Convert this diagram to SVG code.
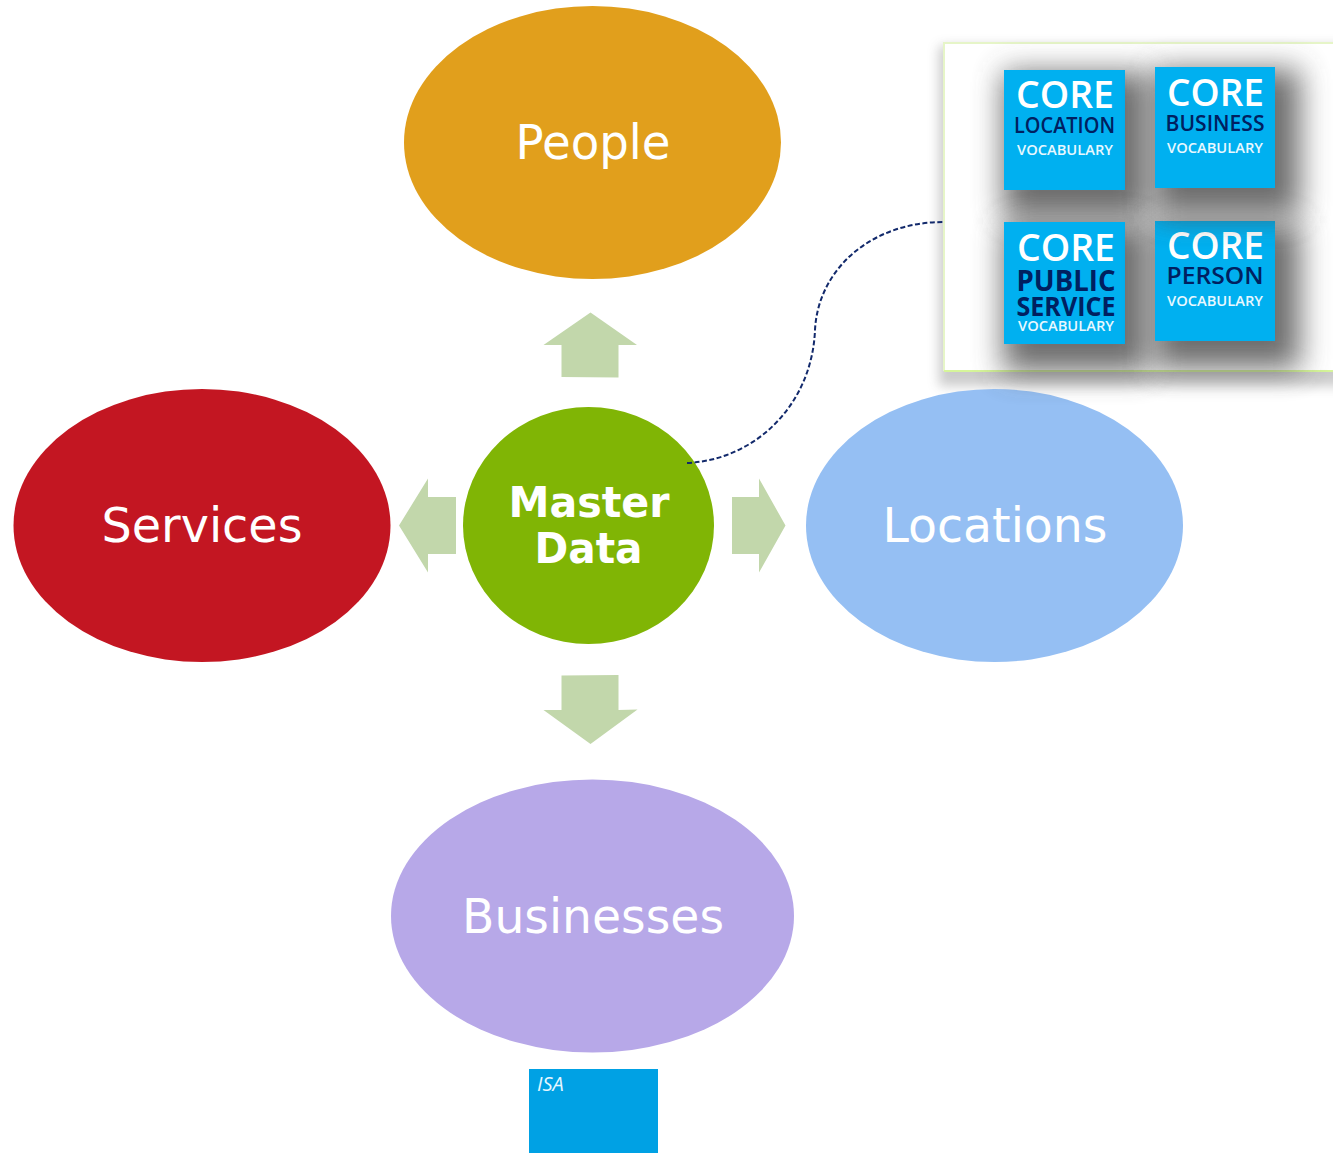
<svg xmlns="http://www.w3.org/2000/svg" width="1333" height="1153" viewBox="0 0 1333 1153">
<defs>
<filter id="tileShadow" x="-60%" y="-60%" width="220%" height="220%"><feGaussianBlur stdDeviation="15"/></filter>
<filter id="panelShadow" x="-5%" y="-10%" width="110%" height="125%"><feGaussianBlur stdDeviation="6"/></filter>
</defs>
<style>
.big{font-family:"DejaVu Sans",Verdana,sans-serif;font-size:47.500px;text-anchor:middle;fill:#fff}
.md{font-family:"DejaVu Sans",Verdana,sans-serif;font-size:42.500px;font-weight:700;text-anchor:middle;fill:#fff}
.arrow{fill:#c2d7ab}
.tile{fill:#00b0f0}
.shadow{fill:#4a4a4a;opacity:.8;filter:url(#tileShadow)}
.core{font-family:"Open Sans","Noto Sans",sans-serif;font-size:38.500px;font-weight:600;text-anchor:middle;fill:#fff}
.sub{font-family:"Open Sans","Noto Sans",sans-serif;font-size:22px;font-weight:600;text-anchor:middle;fill:#002060}
.voc{font-family:"Open Sans","Noto Sans",sans-serif;font-size:14.500px;font-weight:600;text-anchor:middle;fill:#e8f8ff}
</style>
<g id="panel">
<rect x="939" y="46" width="412" height="340" fill="#777" opacity=".38" filter="url(#panelShadow)"/>
<rect x="944" y="43" width="400" height="328" fill="#fff"/>
<path d="M1340 43H944V371" fill="none" stroke="#e6f5c8" stroke-width="2"/>
<path d="M944 371H1340" fill="none" stroke="#d6f59a" stroke-width="2"/>
</g>
<g id="node-people"><ellipse cx="592.500" cy="142.500" rx="188.500" ry="136.500" fill="#e19f1c"/><text class="big" x="593" y="158.500" textLength="155" lengthAdjust="spacingAndGlyphs">People</text></g>
<g id="node-services"><ellipse cx="202" cy="525.500" rx="188.500" ry="136.500" fill="#c31622"/><text class="big" x="202" y="541.500" textLength="201" lengthAdjust="spacingAndGlyphs">Services</text></g>
<g id="node-locations"><ellipse cx="994.500" cy="525.500" rx="188.500" ry="136.500" fill="#95bff3"/><text class="big" x="995" y="541.500" textLength="225" lengthAdjust="spacingAndGlyphs">Locations</text></g>
<g id="node-businesses"><ellipse cx="592.500" cy="916" rx="201.500" ry="136.500" fill="#b7a8e8"/><text class="big" x="593" y="932.500" textLength="262" lengthAdjust="spacingAndGlyphs">Businesses</text></g>
<g id="node-master"><ellipse cx="588.500" cy="525.500" rx="125.500" ry="118.500" fill="#80b505"/>
<text class="md" x="589" y="517" textLength="161" lengthAdjust="spacingAndGlyphs">Master</text><text class="md" x="588.500" y="563" textLength="108" lengthAdjust="spacingAndGlyphs">Data</text></g>
<g id="connectors">
<polygon class="arrow" points="590.500,312.500 637,345 618.500,345 618.500,377.500 561.500,377 561.500,345 543.500,345"/>
<polygon class="arrow" points="399,525.500 428,478.500 428,497 456,497 456,554 428,554 428,572.500"/>
<polygon class="arrow" points="785.500,525.500 759,478.500 759,497 732,497 732,554 759,554 759,572.500"/>
<polygon class="arrow" points="590.500,744 637.500,709.500 618.500,710 618.500,675 561.500,675.500 561.500,710 543.500,710"/>
<path d="M687 463C755 460 812 405 815 330C818 270 870 222 944 222" fill="none" stroke="#12296b" stroke-width="2" stroke-dasharray="5 2.500"/>
</g>
<g id="tile-location">
<rect class="shadow" x="1003" y="72" width="146" height="146"/><rect class="tile" x="1004" y="70" width="121" height="120"/>
<text class="core" x="1065" y="107.500" textLength="98" lengthAdjust="spacingAndGlyphs">CORE</text><text class="sub" x="1064.500" y="133" textLength="101" lengthAdjust="spacingAndGlyphs">LOCATION</text><text class="voc" x="1065" y="155" textLength="96" lengthAdjust="spacingAndGlyphs">VOCABULARY</text></g>
<g id="tile-public-service">
<rect class="shadow" x="1003" y="224" width="146" height="148"/><rect class="tile" x="1004" y="222" width="121" height="122"/>
<text class="core" x="1066" y="260.500" textLength="98" lengthAdjust="spacingAndGlyphs">CORE</text><text class="sub" x="1066" y="291" style="font-size:29px;font-weight:700" textLength="99" lengthAdjust="spacingAndGlyphs">PUBLIC</text><text class="sub" x="1066" y="316" style="font-size:26px;font-weight:700" textLength="99" lengthAdjust="spacingAndGlyphs">SERVICE</text><text class="voc" x="1066" y="331" textLength="96" lengthAdjust="spacingAndGlyphs">VOCABULARY</text></g>
<g id="tile-person">
<rect class="shadow" x="1154" y="223" width="146" height="146"/><rect class="tile" x="1155" y="221" width="120" height="120"/>
<text class="core" x="1215.500" y="258.500" textLength="97" lengthAdjust="spacingAndGlyphs">CORE</text><text class="sub" x="1215" y="284" style="font-size:24px" textLength="97" lengthAdjust="spacingAndGlyphs">PERSON</text><text class="voc" x="1215" y="306" textLength="96" lengthAdjust="spacingAndGlyphs">VOCABULARY</text></g>
<g id="tile-business">
<rect class="shadow" x="1154" y="69" width="146" height="147"/><rect class="tile" x="1155" y="67" width="120" height="121"/>
<text class="core" x="1215.500" y="105.500" textLength="97" lengthAdjust="spacingAndGlyphs">CORE</text><text class="sub" x="1215" y="131" textLength="99" lengthAdjust="spacingAndGlyphs">BUSINESS</text><text class="voc" x="1215" y="153" textLength="96" lengthAdjust="spacingAndGlyphs">VOCABULARY</text></g>
<g id="node-isa"><rect x="529" y="1069" width="129" height="84" fill="#00a1e4"/>
<text x="537" y="1091" font-family="'Open Sans','Noto Sans',sans-serif" font-size="20" font-style="italic" fill="#e6f7ff">ISA</text></g>
</svg>
